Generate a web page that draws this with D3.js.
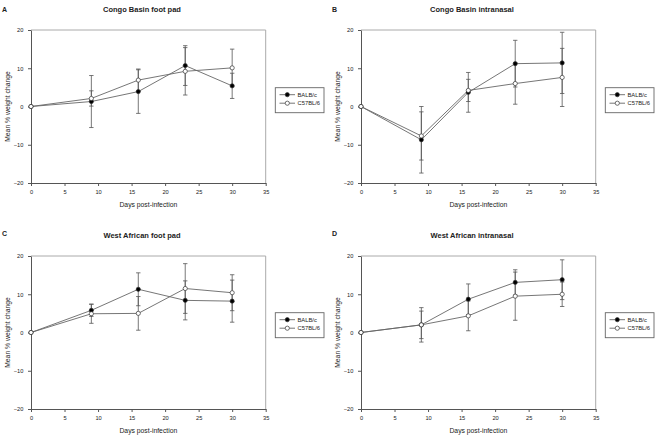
<!DOCTYPE html>
<html>
<head>
<meta charset="utf-8">
<script src="https://cdn.jsdelivr.net/npm/d3@7"></script>
<style>
  html, body { margin: 0; padding: 0; background: #fff; }
  svg { display: block; font-family: "Liberation Sans", Arial, sans-serif; }
</style>
</head>
<body>
<svg id="chart" width="661" height="439"></svg>
<script>
// ---- data ----
const days = [0, 9, 16, 23, 30];
const xTicks = [0, 5, 10, 15, 20, 25, 30, 35];
const yTicks = [-20, -10, 0, 10, 20];
const seriesNames = ["BALB/c", "C57BL/6"];
const panelLetters = ["A", "B", "C", "D"];
const panelTitles = ["Congo Basin foot pad", "Congo Basin intranasal", "West African foot pad", "West African intranasal"];

const cbFootBalb     = [0, 1.3, 3.9, 10.7, 5.4];
const cbFootBalbErr  = [0, 6.8, 5.7, 5.2, 3.3];
const cbFootC57      = [0, 2.1, 6.9, 9.2, 10.1];
const cbFootC57Err   = [0, 2.0, 2.9, 6.2, 4.9];

const cbNasalBalb    = [0, -8.7, 3.7, 11.2, 11.4];
const cbNasalBalbErr = [0, 8.7, 5.2, 6.1, 8.0];
const cbNasalC57     = [0, -7.7, 4.2, 6.0, 7.6];
const cbNasalC57Err  = [0, 6.3, 2.9, 5.4, 7.6];

const waFootBalb     = [0, 5.8, 11.3, 8.4, 8.2];
const waFootBalbErr  = [0, 1.6, 4.3, 5.1, 5.5];
const waFootC57      = [0, 4.9, 5.0, 11.5, 10.4];
const waFootC57Err   = [0, 2.5, 4.4, 6.5, 4.7];

const waNasalBalb    = [0, 2.0, 8.7, 13.1, 13.8];
const waNasalBalbErr = [0, 4.5, 4.0, 3.3, 5.2];
const waNasalC57     = [0, 2.0, 4.35, 9.5, 10.0];
const waNasalC57Err  = [0, 3.6, 3.9, 6.3, 3.2];

const panels = [
  { balb: cbFootBalb,  balbErr: cbFootBalbErr,  c57: cbFootC57,  c57Err: cbFootC57Err },
  { balb: cbNasalBalb, balbErr: cbNasalBalbErr, c57: cbNasalC57, c57Err: cbNasalC57Err },
  { balb: waFootBalb,  balbErr: waFootBalbErr,  c57: waFootC57,  c57Err: waFootC57Err },
  { balb: waNasalBalb, balbErr: waNasalBalbErr, c57: waNasalC57, c57Err: waNasalC57Err }
];

// ---- layout ----
const svg = d3.select("#chart");
const plotW = 234.7, plotH = 153;
const offsets = [[0, 0], [330, 0], [0, 226], [330, 226]];

panels.forEach((p, i) => {
  const [ox, oy] = offsets[i];
  const g = svg.append("g").attr("transform", `translate(${ox},${oy})`);
  const left = 31, top = 30;
  const x = d3.scaleLinear().domain([0, 35]).range([left, left + plotW]);
  const y = d3.scaleLinear().domain([-20, 20]).range([top + plotH, top]);

  // panel letter and title
  g.append("text").attr("x", 2).attr("y", i < 2 ? 12 : 10)
    .attr("font-size", 7).attr("font-weight", "bold").attr("fill", "#222").text(panelLetters[i]);
  g.append("text").attr("x", 142).attr("y", 12.3).attr("text-anchor", "middle")
    .attr("font-size", 7.5).attr("font-weight", "bold").attr("fill", "#222").text(panelTitles[i]);

  // top & right frame
  g.append("line").attr("x1", x(0)).attr("x2", x(35)).attr("y1", y(20)).attr("y2", y(20))
    .attr("stroke", "#aaa").attr("stroke-width", 1);
  g.append("line").attr("x1", x(35)).attr("x2", x(35)).attr("y1", y(20)).attr("y2", y(-20))
    .attr("stroke", "#aaa").attr("stroke-width", 1);

  // axes
  const ax = g.append("g").attr("transform", `translate(0,${y(-20)})`)
    .call(d3.axisBottom(x).tickValues(xTicks).tickSize(3).tickSizeOuter(0));
  const ay = g.append("g").attr("transform", `translate(${x(0)},0)`)
    .call(d3.axisLeft(y).tickValues(yTicks).tickSize(3).tickSizeOuter(0));
  [ax, ay].forEach(a => {
    a.select(".domain").attr("stroke", "#555");
    a.selectAll(".tick line").attr("stroke", "#555");
    a.selectAll(".tick text").attr("font-size", 5.7).attr("fill", "#222")
      .attr("font-family", "Liberation Sans, Arial, sans-serif");
  });
  ax.selectAll(".tick text").attr("dy", "0.9em");
  ay.selectAll(".tick text").attr("dx", "-0.3em");

  // axis labels
  g.append("text").attr("x", x(17.5)).attr("y", top + plotH + 23.5).attr("text-anchor", "middle")
    .attr("font-size", 6.8).attr("fill", "#222").text("Days post-infection");
  g.append("text").attr("transform", `translate(9.5,${y(0)}) rotate(-90)`).attr("text-anchor", "middle")
    .attr("font-size", 6.8).attr("fill", "#222").text("Mean % weight change");

  const series = [
    { vals: p.balb, errs: p.balbErr, fill: "#000" },
    { vals: p.c57, errs: p.c57Err, fill: "#fff" }
  ];
  const line = d3.line().x((d, j) => x(days[j])).y(d => y(d));

  // lines
  series.forEach(s => {
    g.append("path").datum(s.vals).attr("d", line)
      .attr("fill", "none").attr("stroke", "#666").attr("stroke-width", 0.9);
  });
  // error bars
  series.forEach(s => {
    const eb = g.append("g").attr("stroke", "#555").attr("stroke-width", 0.8);
    s.vals.forEach((v, j) => {
      const e = s.errs[j];
      if (!e) return;
      const cx = x(days[j]);
      eb.append("line").attr("x1", cx).attr("x2", cx).attr("y1", y(v - e)).attr("y2", y(v + e));
      eb.append("line").attr("x1", cx - 2.2).attr("x2", cx + 2.2).attr("y1", y(v + e)).attr("y2", y(v + e));
      eb.append("line").attr("x1", cx - 2.2).attr("x2", cx + 2.2).attr("y1", y(v - e)).attr("y2", y(v - e));
    });
  });
  // markers
  series.forEach(s => {
    g.append("g").selectAll("circle").data(s.vals).join("circle")
      .attr("cx", (d, j) => x(days[j])).attr("cy", d => y(d)).attr("r", 2.1)
      .attr("fill", s.fill).attr("stroke", "#333").attr("stroke-width", 0.7);
  });

  // legend
  const ly = (i < 2 ? 87.7 : 86.7);
  const lg = g.append("g");
  lg.append("rect").attr("x", 275.3).attr("y", ly).attr("width", 48.7).attr("height", 25)
    .attr("fill", "#fff").attr("stroke", "#666").attr("stroke-width", 0.9);
  series.forEach((s, k) => {
    const yy = ly + 7 + k * 8.5;
    lg.append("line").attr("x1", 279.5).attr("x2", 295).attr("y1", yy).attr("y2", yy)
      .attr("stroke", "#666").attr("stroke-width", 0.9);
    lg.append("circle").attr("cx", 287.3).attr("cy", yy).attr("r", 2.1)
      .attr("fill", s.fill).attr("stroke", "#333").attr("stroke-width", 0.7);
    lg.append("text").attr("x", 297.5).attr("y", yy + 2).attr("font-size", 5.8).attr("fill", "#222")
      .text(seriesNames[k]);
  });
});
</script>
</body>
</html>
